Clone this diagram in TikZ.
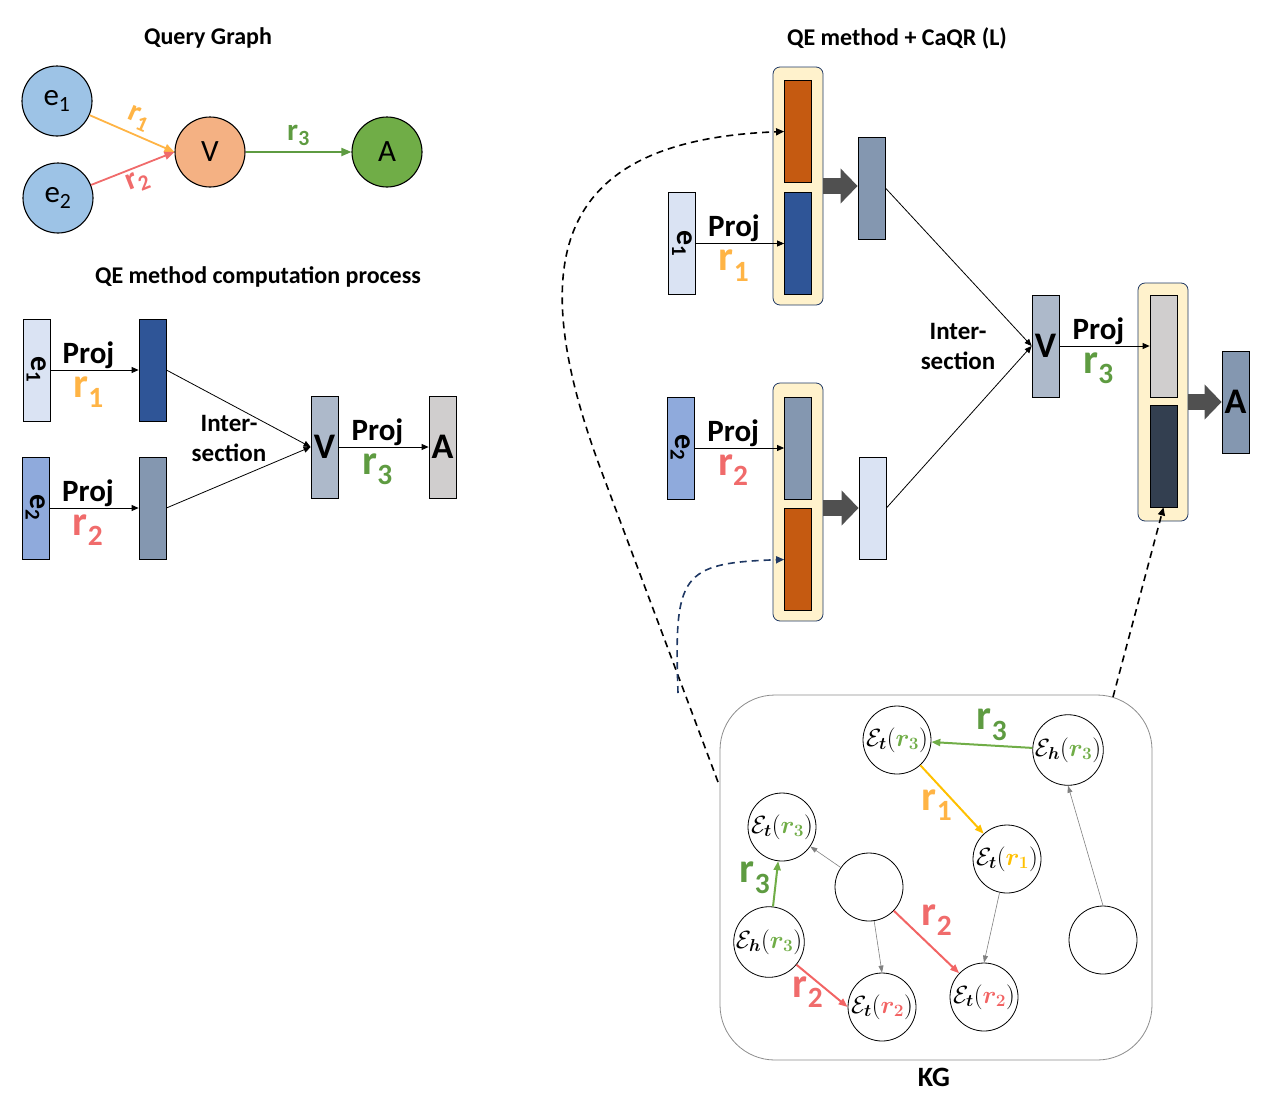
\documentclass[tikz,border=0pt]{standalone}
\usepackage{fontspec}
\setmainfont{Carlito}
\usepackage{bm}
\usepackage{tikz}
\usetikzlibrary{calc,positioning,arrows.meta}
\definecolor{qgblue}{HTML}{9DC3E6}
\definecolor{qgorange}{HTML}{F4B183}
\definecolor{qggreen}{HTML}{70AD47}
\definecolor{relorange}{HTML}{FFB445}
\definecolor{relred}{HTML}{F06B6B}
\definecolor{relgreen}{HTML}{5E9B41}
\definecolor{kgyellow}{HTML}{FFC000}
\definecolor{kgred}{HTML}{F26464}
\definecolor{veclight}{HTML}{DAE3F3}
\definecolor{vecmid}{HTML}{8FAADC}
\definecolor{vecdark}{HTML}{2F5597}
\definecolor{vecslate}{HTML}{8497B0}
\definecolor{vecgray}{HTML}{ADB9CA}
\definecolor{veclgray}{HTML}{D0CECE}
\definecolor{vecnavy}{HTML}{333F50}
\definecolor{vecorange}{HTML}{C55A11}
\definecolor{cqyellow}{HTML}{FFF2CC}
\definecolor{cqnavy}{HTML}{1F3864}
\definecolor{fatgray}{HTML}{505050}
\definecolor{kgborder}{HTML}{8C8C8C}
\newcommand{\fsz}[1]{\fontsize{#1}{#1}\selectfont}
\newcommand{\relsub}[1]{r\textsubscript{#1}}
\newcommand{\entsub}[1]{{\fsz{30}\rotatebox{-90}{e\textsubscript{#1}}}}
\tikzset{
  heading/.style={font=\fsz{24}\bfseries},
  qnode/.style={circle, draw, line width=1.1pt, minimum size=70pt, inner sep=0pt, font=\fsz{31}},
  qarrow/.style={line width=1.8pt, -{Triangle[length=10pt,width=8pt]}},
  qlabel/.style={font=\fsz{31}\bfseries, inner sep=1pt},
  vec/.style={draw, line width=0.8pt, minimum width=27pt, minimum height=102pt, inner sep=0pt, font=\fsz{36}\bfseries},
  cqbox/.style={draw=cqnavy, line width=0.8pt, fill=cqyellow, rounded corners=7pt, minimum width=50pt, minimum height=238pt},
  thinarrow/.style={line width=0.8pt, -{Triangle[length=7pt,width=6pt]}},
  projlbl/.style={font=\fsz{31}\bfseries, inner sep=1pt, xshift=-6pt},
  rlbl/.style={font=\fsz{42}\bfseries, inner sep=0pt, xshift=-6pt},
  interlbl/.style={font=\fontsize{25}{30}\selectfont\bfseries, align=center},
  fatarrow/.style={line width=16pt, draw=fatgray, -{Triangle[length=17pt,width=34pt]}},
  linkarrow/.style={dashed, dash pattern=on 7pt off 5pt, line width=1.6pt, -{Triangle[length=8pt,width=7pt]}},
  kgnode/.style={circle, draw, line width=0.8pt, minimum size=68pt, inner sep=0pt, font=\fsz{24}},
  kgarrow/.style={line width=2pt, -{Triangle[length=9pt,width=7pt]}},
  kgthin/.style={line width=0.6pt, draw=gray, -{Triangle[length=7pt,width=5pt]}},
  kglbl/.style={font=\fsz{42}\bfseries, inner sep=0pt}
}
\begin{document}
\begin{tikzpicture}[x=1pt, y=-1pt]
\useasboundingbox (0,0) rectangle (1268,1106);

% query graph
\node[heading] (qgtitle) at (208,38) {Query Graph};
\node[qnode, fill=qgblue] (qe1) at (57,101) {e\textsubscript{1}};
\node[qnode, fill=qgblue] (qe2) at (58,198) {e\textsubscript{2}};
\node[qnode, fill=qgorange] (qv) at (210,152) {V};
\node[qnode, fill=qggreen] (qa) at (387,152) {A};
\draw[qarrow, draw=relorange] (qe1) -- (qv.west)
  node[midway, above=4pt, sloped, qlabel, text=relorange] {\relsub{1}};
\draw[qarrow, draw=relred] (qe2) -- (qv.west)
  node[midway, below=2pt, sloped, qlabel, text=relred] {\relsub{2}};
\draw[qarrow, draw=relgreen] (qv) -- (qa)
  node[midway, above=4pt, qlabel, text=relgreen] {\relsub{3}};

% QE method computation process
\node[heading] (qetitle) at (258,277) {QE method computation process};
\node[vec, fill=veclight] (le1) at (36.5,370) {\entsub{1}};
\node[vec, fill=vecdark] (lm1) at (152.5,370) {};
\node[vec, fill=vecmid] (le2) at (35.5,508) {\entsub{2}};
\node[vec, fill=vecslate] (lm2) at (152.5,508) {};
\node[vec, fill=vecgray] (lv) at (324.5,447) {V};
\node[vec, fill=veclgray] (la) at (442.5,447) {A};
\draw[thinarrow] (le1) -- (lm1)
  node[midway, above, projlbl] {Proj}
  node[midway, below=6pt, rlbl, text=relorange] {\relsub{1}};
\draw[thinarrow] (le2) -- (lm2)
  node[midway, above, projlbl] {Proj}
  node[midway, below=6pt, rlbl, text=relred] {\relsub{2}};
\draw[thinarrow] (lm1.east) -- (lv.west);
\draw[thinarrow] (lm2.east) -- (lv.west);
\node[interlbl] (linter) at (229,438) {Inter-\\section};
\draw[thinarrow] (lv) -- (la)
  node[midway, above, projlbl] {Proj}
  node[midway, below=6pt, rlbl, text=relgreen] {\relsub{3}};

% QE method + CaQR
\node[heading] (cqtitle) at (897,38) {QE method + CaQR (L)};
\node[cqbox] (cq1) at (798,186) {};
\node[vec, fill=vecorange] (c1) at (798,131.5) {};
\node[vec, fill=vecdark] (p1) at (798,243.5) {};
\node[vec, fill=veclight] (re1) at (682,243.5) {\entsub{1}};
\node[vec, fill=vecslate] (u1) at (871.5,188) {};
\node[cqbox] (cq2) at (798,502) {};
\node[vec, fill=vecslate] (p2) at (798,448) {};
\node[vec, fill=vecorange] (c2) at (798,559.5) {};
\node[vec, fill=vecmid] (re2) at (680.5,448) {\entsub{2}};
\node[vec, fill=veclight] (u2) at (872.5,508) {};
\node[vec, fill=vecgray] (rv) at (1045.5,346) {V};
\node[cqbox] (cq3) at (1163,402) {};
\node[vec, fill=veclgray] (p3) at (1163.5,346) {};
\node[vec, fill=vecnavy] (c3) at (1163.5,456) {};
\node[vec, fill=vecslate] (ra) at (1235.5,402) {A};
\draw[thinarrow] (re1) -- (p1)
  node[midway, above, projlbl] {Proj}
  node[midway, below=6pt, rlbl, text=relorange] {\relsub{1}};
\draw[thinarrow] (re2) -- (p2)
  node[midway, above, projlbl] {Proj}
  node[midway, below=6pt, rlbl, text=relred] {\relsub{2}};
\draw[fatarrow] (cq1.east) -- (cq1.east -| u1.west);
\draw[fatarrow] (cq2.east |- u2) -- (u2.west);
\draw[thinarrow] (u1.east) -- (rv.west);
\draw[thinarrow] (u2.east) -- (rv.west);
\node[interlbl] (rinter) at (958,346) {Inter-\\section};
\draw[thinarrow] (rv) -- (p3)
  node[midway, above, projlbl] {Proj}
  node[midway, below=6pt, rlbl, text=relgreen] {\relsub{3}};
\draw[fatarrow] (cq3.east) -- (ra.west);

% KG
\node[draw=kgborder, line width=0.8pt, rounded corners=55pt, minimum width=432pt, minimum height=365pt] (kg) at (936,877.5) {};
\node[font=\fsz{28}\bfseries] (kglabel) at (934,1077) {KG};
\node[kgnode] (kA) at (897,740) {$\mathcal{E}_{\bm t}(\textcolor{qggreen}{\bm{r_3}})$};
\node[kgnode] (kB) at (1068,750) {$\mathcal{E}_{\bm h}(\textcolor{qggreen}{\bm{r_3}})$};
\node[kgnode] (kC) at (782,827) {$\mathcal{E}_{\bm t}(\textcolor{qggreen}{\bm{r_3}})$};
\node[kgnode] (kD) at (1007,859) {$\mathcal{E}_{\bm t}(\textcolor{kgyellow}{\bm{r_1}})$};
\node[kgnode] (kE) at (869,887) {};
\node[kgnode] (kF) at (769,942) {$\mathcal{E}_{\bm h}(\textcolor{qggreen}{\bm{r_3}})$};
\node[kgnode] (kG) at (882,1007) {$\mathcal{E}_{\bm t}(\textcolor{kgred}{\bm{r_2}})$};
\node[kgnode] (kH) at (984,997) {$\mathcal{E}_{\bm t}(\textcolor{kgred}{\bm{r_2}})$};
\node[kgnode] (kI) at (1103,940) {};
\draw[kgarrow, draw=qggreen] (kB) -- (kA);
\draw[kgarrow, draw=kgyellow] (kA) -- (kD);
\draw[kgarrow, draw=qggreen] (kF) -- (kC);
\draw[kgarrow, draw=kgred] (kF) -- (kG.west);
\draw[kgarrow, draw=kgred] (kE) -- (kH);
\draw[kgthin] (kE) -- (kC);
\draw[kgthin] (kE) -- (kG.north);
\draw[kgthin] (kD) -- (kH.north);
\draw[kgthin] (kI.north) -- (kB.south);
\node[kglbl, text=relgreen] (kr3a) at (992,725) {\relsub{3}};
\node[kglbl, text=relorange] (kr1) at (937,805) {\relsub{1}};
\node[kglbl, text=relgreen] (kr3b) at (755,878) {\relsub{3}};
\node[kglbl, text=relred] (kr2a) at (808,992) {\relsub{2}};
\node[kglbl, text=relred] (kr2b) at (937,920) {\relsub{2}};

% links from KG
\coordinate (d1) at (718,782);
\coordinate (d2) at (678,693);
\coordinate (d3) at (1113,697);
\draw[linkarrow] (d1) -- (601,470) .. controls (520,253) and (560,140) .. (c1.west);
\draw[linkarrow, draw=cqnavy] (d2) .. controls (674,575) and (680,563) .. (c2.west);
\draw[linkarrow] (d3) -- (c3.south);
\end{tikzpicture}
\end{document}
